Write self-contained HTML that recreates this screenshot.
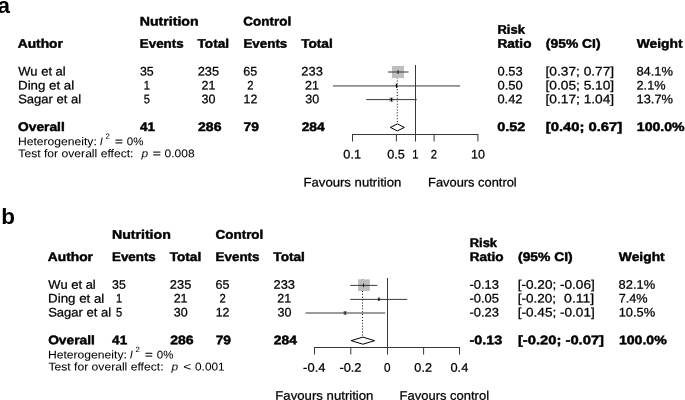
<!DOCTYPE html>
<html><head><meta charset="utf-8"><title>Forest plot</title>
<style>
html,body{margin:0;padding:0;background:#fff;}
body{width:685px;height:400px;overflow:hidden;position:relative;font-family:"Liberation Sans",sans-serif;}
svg{position:absolute;left:0;top:0;display:block;will-change:transform;}
svg text{font-family:"Liberation Sans",sans-serif;fill:#000;stroke:#000;stroke-linejoin:round;}
.r{stroke-width:0.25px;}
.b{font-weight:bold;stroke-width:0.45px;}
.i{font-style:italic;stroke-width:0.2px;}
.s{stroke-width:0.05px;}
.j{font-style:italic;stroke-width:0.0px;}
.lab{font-weight:bold;stroke:none;}
</style></head>
<body>
<svg width="685" height="400" viewBox="0 0 685 400">
<rect x="0" y="0" width="685" height="400" fill="#ffffff"/>
<text class="lab" x="-2.6" y="12.5" font-size="21.3" textLength="12.5" lengthAdjust="spacingAndGlyphs">a</text>
<text class="lab" x="1.35" y="223.8" font-size="21.3" textLength="13.7" lengthAdjust="spacingAndGlyphs">b</text>

<g fill="none" stroke="#383838" stroke-width="1">
<!-- panel a -->
<line x1="397.3" y1="65.95" x2="397.3" y2="123.5" stroke-dasharray="1 1.9" stroke="#111" stroke-width="1.05"/>
<rect x="392" y="66" width="12" height="12" fill="#bebebe" stroke="none"/>
<rect x="389.2" y="97.3" width="4.5" height="4.5" fill="#bebebe" stroke="none"/>
<rect x="395.6" y="85.1" width="1.8" height="1.8" fill="#bebebe" stroke="none"/>
<line x1="388" y1="72" x2="408.5" y2="72"/>
<line x1="333" y1="85.95" x2="460" y2="85.95"/>
<line x1="366.2" y1="99.6" x2="416.8" y2="99.6"/>
<line x1="398.05" y1="70.1" x2="398.05" y2="73.9" stroke="#111" stroke-width="0.95"/>
<line x1="396.5" y1="83.8" x2="396.5" y2="87.8" stroke="#000" stroke-width="1.3"/>
<line x1="391.5" y1="97.9" x2="391.5" y2="101.4" stroke="#000" stroke-width="1.2"/>
<line x1="415.5" y1="65" x2="415.5" y2="141.5"/>
<line x1="352" y1="134.5" x2="478.4" y2="134.5"/>
<line x1="352.5" y1="134.5" x2="352.5" y2="141.5"/>
<line x1="396.4" y1="134.5" x2="396.4" y2="141.5"/>
<line x1="434.1" y1="134.5" x2="434.1" y2="141.5"/>
<line x1="477.9" y1="134.5" x2="477.9" y2="141.5"/>
<path d="M390.3 127.4 L397.4 123.9 L404.4 127.4 L397.4 130.9 Z" fill="#fff" stroke="#000"/>
<!-- panel b -->
<line x1="362.5" y1="279.3" x2="362.5" y2="337" stroke-dasharray="1 1.9" stroke="#111" stroke-width="1.05"/>
<rect x="358" y="279.3" width="11.8" height="11.7" fill="#bebebe" stroke="none"/>
<rect x="377.5" y="297.6" width="3" height="3" fill="#bebebe" stroke="none"/>
<rect x="343.2" y="311" width="3.7" height="3.7" fill="#bebebe" stroke="none"/>
<line x1="350.25" y1="285.4" x2="377.25" y2="285.4"/>
<line x1="350.25" y1="299.4" x2="407.2" y2="299.4"/>
<line x1="305.5" y1="313" x2="385.2" y2="313"/>
<line x1="363.55" y1="283.5" x2="363.55" y2="287.1" stroke="#111" stroke-width="0.9"/>
<line x1="378.9" y1="297.4" x2="378.9" y2="301" stroke="#000" stroke-width="1.1"/>
<line x1="345.1" y1="311.2" x2="345.1" y2="314.8" stroke="#000"/>
<line x1="387.5" y1="278" x2="387.5" y2="354.5"/>
<line x1="314" y1="347.5" x2="460" y2="347.5"/>
<line x1="314.5" y1="347.5" x2="314.5" y2="354.5"/>
<line x1="350.8" y1="347.5" x2="350.8" y2="354.5"/>
<line x1="423.6" y1="347.5" x2="423.6" y2="354.5"/>
<line x1="459.5" y1="347.5" x2="459.5" y2="354.5"/>
<path d="M351.2 340.65 L362.9 337.1 L374.6 340.65 L362.9 344.2 Z" fill="#fff" stroke="#000"/>
</g>

<g>
<text x="139.76" y="25.55" transform="rotate(0.05 139.76 25.55)" font-size="12.4" class="b" textLength="58.83" lengthAdjust="spacingAndGlyphs">Nutrition</text>
<text x="243.32" y="25.55" transform="rotate(0.05 243.32 25.55)" font-size="12.4" class="b" textLength="47.83" lengthAdjust="spacingAndGlyphs">Control</text>
<text x="497.54" y="33.75" transform="rotate(0.05 497.54 33.75)" font-size="12.4" class="b" textLength="27.33" lengthAdjust="spacingAndGlyphs">Risk</text>
<text x="17.79" y="47.75" transform="rotate(0.05 17.79 47.75)" font-size="12.4" class="b" textLength="45.10" lengthAdjust="spacingAndGlyphs">Author</text>
<text x="139.81" y="47.75" transform="rotate(0.05 139.81 47.75)" font-size="12.4" class="b" textLength="43.83" lengthAdjust="spacingAndGlyphs">Events</text>
<text x="197.50" y="47.75" transform="rotate(0.05 197.50 47.75)" font-size="12.4" class="b" textLength="31.58" lengthAdjust="spacingAndGlyphs">Total</text>
<text x="243.46" y="47.75" transform="rotate(0.05 243.46 47.75)" font-size="12.4" class="b" textLength="43.83" lengthAdjust="spacingAndGlyphs">Events</text>
<text x="301.15" y="47.75" transform="rotate(0.05 301.15 47.75)" font-size="12.4" class="b" textLength="31.58" lengthAdjust="spacingAndGlyphs">Total</text>
<text x="497.49" y="47.75" transform="rotate(0.05 497.49 47.75)" font-size="12.4" class="b" textLength="33.97" lengthAdjust="spacingAndGlyphs">Ratio</text>
<text x="545.88" y="47.75" transform="rotate(0.05 545.88 47.75)" font-size="12.4" class="b" textLength="54.64" lengthAdjust="spacingAndGlyphs">(95% CI)</text>
<text x="636.73" y="47.75" transform="rotate(0.05 636.73 47.75)" font-size="12.4" class="b" textLength="45.85" lengthAdjust="spacingAndGlyphs">Weight</text>
<text x="18.32" y="75.55" transform="rotate(0.05 18.32 75.55)" font-size="12.4" class="r" textLength="47.40" lengthAdjust="spacingAndGlyphs">Wu et al</text>
<text x="139.91" y="75.55" transform="rotate(0.05 139.91 75.55)" font-size="12.4" class="r" textLength="13.76" lengthAdjust="spacingAndGlyphs">35</text>
<text x="197.71" y="75.55" transform="rotate(0.05 197.71 75.55)" font-size="12.4" class="r" textLength="21.43" lengthAdjust="spacingAndGlyphs">235</text>
<text x="243.37" y="75.55" transform="rotate(0.05 243.37 75.55)" font-size="12.4" class="r" textLength="13.95" lengthAdjust="spacingAndGlyphs">65</text>
<text x="301.36" y="75.55" transform="rotate(0.05 301.36 75.55)" font-size="12.4" class="r" textLength="21.49" lengthAdjust="spacingAndGlyphs">233</text>
<text x="497.47" y="75.55" transform="rotate(0.05 497.47 75.55)" font-size="12.4" class="r" textLength="25.14" lengthAdjust="spacingAndGlyphs">0.53</text>
<text x="545.51" y="75.55" transform="rotate(0.05 545.51 75.55)" font-size="12.4" class="r" textLength="68.65" lengthAdjust="spacingAndGlyphs">[0.37; 0.77]</text>
<text x="636.46" y="75.55" transform="rotate(0.05 636.46 75.55)" font-size="12.4" class="r" textLength="36.53" lengthAdjust="spacingAndGlyphs">84.1%</text>
<text x="18.08" y="89.40" transform="rotate(0.05 18.08 89.40)" font-size="12.4" class="r" textLength="56.14" lengthAdjust="spacingAndGlyphs">Ding et al</text>
<text x="143.72" y="89.40" transform="rotate(0.05 143.72 89.40)" font-size="12.4" class="r" textLength="6.19" lengthAdjust="spacingAndGlyphs">1</text>
<text x="201.47" y="89.40" transform="rotate(0.05 201.47 89.40)" font-size="12.4" class="r" textLength="13.89" lengthAdjust="spacingAndGlyphs">21</text>
<text x="247.23" y="89.40" transform="rotate(0.05 247.23 89.40)" font-size="12.4" class="r" textLength="6.27" lengthAdjust="spacingAndGlyphs">2</text>
<text x="305.12" y="89.40" transform="rotate(0.05 305.12 89.40)" font-size="12.4" class="r" textLength="13.89" lengthAdjust="spacingAndGlyphs">21</text>
<text x="497.47" y="89.40" transform="rotate(0.05 497.47 89.40)" font-size="12.4" class="r" textLength="25.25" lengthAdjust="spacingAndGlyphs">0.50</text>
<text x="545.51" y="89.40" transform="rotate(0.05 545.51 89.40)" font-size="12.4" class="r" textLength="68.65" lengthAdjust="spacingAndGlyphs">[0.05; 5.10]</text>
<text x="636.52" y="89.40" transform="rotate(0.05 636.52 89.40)" font-size="12.4" class="r" textLength="29.02" lengthAdjust="spacingAndGlyphs">2.1%</text>
<text x="18.15" y="103.20" transform="rotate(0.05 18.15 103.20)" font-size="12.4" class="r" textLength="62.98" lengthAdjust="spacingAndGlyphs">Sagar et al</text>
<text x="143.70" y="103.20" transform="rotate(0.05 143.70 103.20)" font-size="12.4" class="r" textLength="6.21" lengthAdjust="spacingAndGlyphs">5</text>
<text x="201.60" y="103.20" transform="rotate(0.05 201.60 103.20)" font-size="12.4" class="r" textLength="13.94" lengthAdjust="spacingAndGlyphs">30</text>
<text x="243.54" y="103.20" transform="rotate(0.05 243.54 103.20)" font-size="12.4" class="r" textLength="13.72" lengthAdjust="spacingAndGlyphs">12</text>
<text x="305.25" y="103.20" transform="rotate(0.05 305.25 103.20)" font-size="12.4" class="r" textLength="13.94" lengthAdjust="spacingAndGlyphs">30</text>
<text x="497.47" y="103.20" transform="rotate(0.05 497.47 103.20)" font-size="12.4" class="r" textLength="25.03" lengthAdjust="spacingAndGlyphs">0.42</text>
<text x="545.51" y="103.20" transform="rotate(0.05 545.51 103.20)" font-size="12.4" class="r" textLength="68.65" lengthAdjust="spacingAndGlyphs">[0.17; 1.04]</text>
<text x="636.60" y="103.20" transform="rotate(0.05 636.60 103.20)" font-size="12.4" class="r" textLength="36.38" lengthAdjust="spacingAndGlyphs">13.7%</text>
<text x="18.11" y="130.95" transform="rotate(0.05 18.11 130.95)" font-size="12.4" class="b" textLength="46.64" lengthAdjust="spacingAndGlyphs">Overall</text>
<text x="139.95" y="130.95" transform="rotate(0.05 139.95 130.95)" font-size="12.4" class="b" textLength="15.04" lengthAdjust="spacingAndGlyphs">41</text>
<text x="198.02" y="130.95" transform="rotate(0.05 198.02 130.95)" font-size="12.4" class="b" textLength="23.46" lengthAdjust="spacingAndGlyphs">286</text>
<text x="243.48" y="130.95" transform="rotate(0.05 243.48 130.95)" font-size="12.4" class="b" textLength="15.36" lengthAdjust="spacingAndGlyphs">79</text>
<text x="301.68" y="130.95" transform="rotate(0.05 301.68 130.95)" font-size="12.4" class="b" textLength="23.08" lengthAdjust="spacingAndGlyphs">284</text>
<text x="497.28" y="130.95" transform="rotate(0.05 497.28 130.95)" font-size="12.4" class="b" textLength="28.04" lengthAdjust="spacingAndGlyphs">0.52</text>
<text x="545.76" y="130.95" transform="rotate(0.05 545.76 130.95)" font-size="12.4" class="b" textLength="76.42" lengthAdjust="spacingAndGlyphs">[0.40; 0.67]</text>
<text x="636.82" y="130.95" transform="rotate(0.05 636.82 130.95)" font-size="12.4" class="b" textLength="47.79" lengthAdjust="spacingAndGlyphs">100.0%</text>
<text x="17.90" y="145.20" transform="rotate(0.05 17.90 145.20)" font-size="11.28" class="s" textLength="78.91" lengthAdjust="spacingAndGlyphs">Heterogeneity:</text>
<text x="99.73" y="145.20" transform="rotate(0.05 99.73 145.20)" font-size="11.28" class="j" textLength="3.13" lengthAdjust="spacingAndGlyphs">I</text>
<text x="105.54" y="138.80" transform="rotate(0.05 105.54 138.80)" font-size="7.6" class="s" textLength="4.28" lengthAdjust="spacingAndGlyphs">2</text>
<text x="114.96" y="145.20" transform="rotate(0.05 114.96 145.20)" font-size="11.28" class="r" textLength="7.77" lengthAdjust="spacingAndGlyphs">=</text>
<text x="126.77" y="145.20" transform="rotate(0.05 126.77 145.20)" font-size="11.28" class="s" textLength="16.62" lengthAdjust="spacingAndGlyphs">0%</text>
<text x="18.38" y="157.25" transform="rotate(0.05 18.38 157.25)" font-size="11.28" class="s" textLength="115.10" lengthAdjust="spacingAndGlyphs">Test for overall effect:</text>
<text x="141.54" y="157.25" transform="rotate(0.05 141.54 157.25)" font-size="11.28" class="j" textLength="6.59" lengthAdjust="spacingAndGlyphs">p</text>
<text x="152.73" y="157.25" transform="rotate(0.05 152.73 157.25)" font-size="11.28" class="r" textLength="8.13" lengthAdjust="spacingAndGlyphs">=</text>
<text x="164.54" y="157.25" transform="rotate(0.05 164.54 157.25)" font-size="11.28" class="s" textLength="30.14" lengthAdjust="spacingAndGlyphs">0.008</text>
<text x="343.37" y="158.60" transform="rotate(0.05 343.37 158.60)" font-size="12.4" class="r" textLength="17.62" lengthAdjust="spacingAndGlyphs">0.1</text>
<text x="387.27" y="158.60" transform="rotate(0.05 387.27 158.60)" font-size="12.4" class="r" textLength="17.61" lengthAdjust="spacingAndGlyphs">0.5</text>
<text x="412.16" y="158.60" transform="rotate(0.05 412.16 158.60)" font-size="12.4" class="r" textLength="6.19" lengthAdjust="spacingAndGlyphs">1</text>
<text x="430.82" y="158.60" transform="rotate(0.05 430.82 158.60)" font-size="12.4" class="r" textLength="6.27" lengthAdjust="spacingAndGlyphs">2</text>
<text x="471.03" y="158.60" transform="rotate(0.05 471.03 158.60)" font-size="12.4" class="r" textLength="13.97" lengthAdjust="spacingAndGlyphs">10</text>
<text x="303.47" y="186.45" transform="rotate(0.05 303.47 186.45)" font-size="12.4" class="r" textLength="97.89" lengthAdjust="spacingAndGlyphs">Favours nutrition</text>
<text x="428.10" y="186.45" transform="rotate(0.05 428.10 186.45)" font-size="12.4" class="r" textLength="88.64" lengthAdjust="spacingAndGlyphs">Favours control</text>
<text x="111.94" y="238.75" transform="rotate(0.05 111.94 238.75)" font-size="12.4" class="b" textLength="58.83" lengthAdjust="spacingAndGlyphs">Nutrition</text>
<text x="215.50" y="238.75" transform="rotate(0.05 215.50 238.75)" font-size="12.4" class="b" textLength="47.83" lengthAdjust="spacingAndGlyphs">Control</text>
<text x="469.72" y="246.95" transform="rotate(0.05 469.72 246.95)" font-size="12.4" class="b" textLength="27.33" lengthAdjust="spacingAndGlyphs">Risk</text>
<text x="47.84" y="260.95" transform="rotate(0.05 47.84 260.95)" font-size="12.4" class="b" textLength="45.10" lengthAdjust="spacingAndGlyphs">Author</text>
<text x="111.99" y="260.95" transform="rotate(0.05 111.99 260.95)" font-size="12.4" class="b" textLength="43.83" lengthAdjust="spacingAndGlyphs">Events</text>
<text x="169.68" y="260.95" transform="rotate(0.05 169.68 260.95)" font-size="12.4" class="b" textLength="31.58" lengthAdjust="spacingAndGlyphs">Total</text>
<text x="215.64" y="260.95" transform="rotate(0.05 215.64 260.95)" font-size="12.4" class="b" textLength="43.83" lengthAdjust="spacingAndGlyphs">Events</text>
<text x="273.33" y="260.95" transform="rotate(0.05 273.33 260.95)" font-size="12.4" class="b" textLength="31.58" lengthAdjust="spacingAndGlyphs">Total</text>
<text x="469.67" y="260.95" transform="rotate(0.05 469.67 260.95)" font-size="12.4" class="b" textLength="33.97" lengthAdjust="spacingAndGlyphs">Ratio</text>
<text x="518.06" y="260.95" transform="rotate(0.05 518.06 260.95)" font-size="12.4" class="b" textLength="54.64" lengthAdjust="spacingAndGlyphs">(95% CI)</text>
<text x="618.85" y="260.95" transform="rotate(0.05 618.85 260.95)" font-size="12.4" class="b" textLength="45.85" lengthAdjust="spacingAndGlyphs">Weight</text>
<text x="48.37" y="288.75" transform="rotate(0.05 48.37 288.75)" font-size="12.4" class="r" textLength="47.40" lengthAdjust="spacingAndGlyphs">Wu et al</text>
<text x="112.09" y="288.75" transform="rotate(0.05 112.09 288.75)" font-size="12.4" class="r" textLength="13.76" lengthAdjust="spacingAndGlyphs">35</text>
<text x="169.89" y="288.75" transform="rotate(0.05 169.89 288.75)" font-size="12.4" class="r" textLength="21.43" lengthAdjust="spacingAndGlyphs">235</text>
<text x="215.55" y="288.75" transform="rotate(0.05 215.55 288.75)" font-size="12.4" class="r" textLength="13.95" lengthAdjust="spacingAndGlyphs">65</text>
<text x="273.54" y="288.75" transform="rotate(0.05 273.54 288.75)" font-size="12.4" class="r" textLength="21.49" lengthAdjust="spacingAndGlyphs">233</text>
<text x="469.41" y="288.75" transform="rotate(0.05 469.41 288.75)" font-size="12.4" class="r" textLength="29.57" lengthAdjust="spacingAndGlyphs">-0.13</text>
<text x="517.70" y="288.75" transform="rotate(0.05 517.70 288.75)" font-size="12.4" class="r" textLength="77.07" lengthAdjust="spacingAndGlyphs">[-0.20; -0.06]</text>
<text x="618.58" y="288.75" transform="rotate(0.05 618.58 288.75)" font-size="12.4" class="r" textLength="36.53" lengthAdjust="spacingAndGlyphs">82.1%</text>
<text x="48.13" y="302.60" transform="rotate(0.05 48.13 302.60)" font-size="12.4" class="r" textLength="56.14" lengthAdjust="spacingAndGlyphs">Ding et al</text>
<text x="115.90" y="302.60" transform="rotate(0.05 115.90 302.60)" font-size="12.4" class="r" textLength="6.19" lengthAdjust="spacingAndGlyphs">1</text>
<text x="173.65" y="302.60" transform="rotate(0.05 173.65 302.60)" font-size="12.4" class="r" textLength="13.89" lengthAdjust="spacingAndGlyphs">21</text>
<text x="219.41" y="302.60" transform="rotate(0.05 219.41 302.60)" font-size="12.4" class="r" textLength="6.27" lengthAdjust="spacingAndGlyphs">2</text>
<text x="277.30" y="302.60" transform="rotate(0.05 277.30 302.60)" font-size="12.4" class="r" textLength="13.89" lengthAdjust="spacingAndGlyphs">21</text>
<text x="469.41" y="302.60" transform="rotate(0.05 469.41 302.60)" font-size="12.4" class="r" textLength="29.51" lengthAdjust="spacingAndGlyphs">-0.05</text>
<text x="517.70" y="302.60" transform="rotate(0.05 517.70 302.60)" font-size="12.4" class="r" textLength="38.36" lengthAdjust="spacingAndGlyphs">[-0.20;</text>
<text x="564.07" y="302.60" transform="rotate(0.05 564.07 302.60)" font-size="12.4" class="r" textLength="30.21" lengthAdjust="spacingAndGlyphs">0.11]</text>
<text x="618.70" y="302.60" transform="rotate(0.05 618.70 302.60)" font-size="12.4" class="r" textLength="28.96" lengthAdjust="spacingAndGlyphs">7.4%</text>
<text x="48.20" y="316.40" transform="rotate(0.05 48.20 316.40)" font-size="12.4" class="r" textLength="62.98" lengthAdjust="spacingAndGlyphs">Sagar et al</text>
<text x="115.88" y="316.40" transform="rotate(0.05 115.88 316.40)" font-size="12.4" class="r" textLength="6.21" lengthAdjust="spacingAndGlyphs">5</text>
<text x="173.78" y="316.40" transform="rotate(0.05 173.78 316.40)" font-size="12.4" class="r" textLength="13.94" lengthAdjust="spacingAndGlyphs">30</text>
<text x="215.72" y="316.40" transform="rotate(0.05 215.72 316.40)" font-size="12.4" class="r" textLength="13.72" lengthAdjust="spacingAndGlyphs">12</text>
<text x="277.43" y="316.40" transform="rotate(0.05 277.43 316.40)" font-size="12.4" class="r" textLength="13.94" lengthAdjust="spacingAndGlyphs">30</text>
<text x="469.41" y="316.40" transform="rotate(0.05 469.41 316.40)" font-size="12.4" class="r" textLength="29.57" lengthAdjust="spacingAndGlyphs">-0.23</text>
<text x="517.70" y="316.40" transform="rotate(0.05 517.70 316.40)" font-size="12.4" class="r" textLength="77.07" lengthAdjust="spacingAndGlyphs">[-0.45; -0.01]</text>
<text x="618.72" y="316.40" transform="rotate(0.05 618.72 316.40)" font-size="12.4" class="r" textLength="36.38" lengthAdjust="spacingAndGlyphs">10.5%</text>
<text x="48.16" y="344.15" transform="rotate(0.05 48.16 344.15)" font-size="12.4" class="b" textLength="46.64" lengthAdjust="spacingAndGlyphs">Overall</text>
<text x="112.13" y="344.15" transform="rotate(0.05 112.13 344.15)" font-size="12.4" class="b" textLength="15.04" lengthAdjust="spacingAndGlyphs">41</text>
<text x="170.20" y="344.15" transform="rotate(0.05 170.20 344.15)" font-size="12.4" class="b" textLength="23.46" lengthAdjust="spacingAndGlyphs">286</text>
<text x="215.66" y="344.15" transform="rotate(0.05 215.66 344.15)" font-size="12.4" class="b" textLength="15.36" lengthAdjust="spacingAndGlyphs">79</text>
<text x="273.86" y="344.15" transform="rotate(0.05 273.86 344.15)" font-size="12.4" class="b" textLength="23.08" lengthAdjust="spacingAndGlyphs">284</text>
<text x="469.57" y="344.15" transform="rotate(0.05 469.57 344.15)" font-size="12.4" class="b" textLength="32.73" lengthAdjust="spacingAndGlyphs">-0.13</text>
<text x="517.94" y="344.15" transform="rotate(0.05 517.94 344.15)" font-size="12.4" class="b" textLength="86.07" lengthAdjust="spacingAndGlyphs">[-0.20; -0.07]</text>
<text x="618.94" y="344.15" transform="rotate(0.05 618.94 344.15)" font-size="12.4" class="b" textLength="47.79" lengthAdjust="spacingAndGlyphs">100.0%</text>
<text x="47.95" y="358.40" transform="rotate(0.05 47.95 358.40)" font-size="11.28" class="s" textLength="78.91" lengthAdjust="spacingAndGlyphs">Heterogeneity:</text>
<text x="129.78" y="358.40" transform="rotate(0.05 129.78 358.40)" font-size="11.28" class="j" textLength="3.13" lengthAdjust="spacingAndGlyphs">I</text>
<text x="135.59" y="352.00" transform="rotate(0.05 135.59 352.00)" font-size="7.6" class="s" textLength="4.28" lengthAdjust="spacingAndGlyphs">2</text>
<text x="145.01" y="358.40" transform="rotate(0.05 145.01 358.40)" font-size="11.28" class="r" textLength="7.77" lengthAdjust="spacingAndGlyphs">=</text>
<text x="156.82" y="358.40" transform="rotate(0.05 156.82 358.40)" font-size="11.28" class="s" textLength="16.62" lengthAdjust="spacingAndGlyphs">0%</text>
<text x="48.43" y="370.45" transform="rotate(0.05 48.43 370.45)" font-size="11.28" class="s" textLength="115.10" lengthAdjust="spacingAndGlyphs">Test for overall effect:</text>
<text x="171.59" y="370.45" transform="rotate(0.05 171.59 370.45)" font-size="11.28" class="j" textLength="6.59" lengthAdjust="spacingAndGlyphs">p</text>
<text x="183.23" y="370.45" transform="rotate(0.05 183.23 370.45)" font-size="11.28" class="s" textLength="8.13" lengthAdjust="spacingAndGlyphs">&lt;</text>
<text x="195.05" y="370.45" transform="rotate(0.05 195.05 370.45)" font-size="11.28" class="s" textLength="29.58" lengthAdjust="spacingAndGlyphs">0.001</text>
<text x="303.11" y="371.80" transform="rotate(0.05 303.11 371.80)" font-size="12.4" class="r" textLength="22.35" lengthAdjust="spacingAndGlyphs">-0.4</text>
<text x="339.42" y="371.80" transform="rotate(0.05 339.42 371.80)" font-size="12.4" class="r" textLength="22.07" lengthAdjust="spacingAndGlyphs">-0.2</text>
<text x="383.89" y="371.80" transform="rotate(0.05 383.89 371.80)" font-size="12.4" class="r" textLength="6.56" lengthAdjust="spacingAndGlyphs">0</text>
<text x="414.38" y="371.80" transform="rotate(0.05 414.38 371.80)" font-size="12.4" class="r" textLength="17.56" lengthAdjust="spacingAndGlyphs">0.2</text>
<text x="450.47" y="371.80" transform="rotate(0.05 450.47 371.80)" font-size="12.4" class="r" textLength="17.85" lengthAdjust="spacingAndGlyphs">0.4</text>
<text x="275.27" y="399.65" transform="rotate(0.05 275.27 399.65)" font-size="12.4" class="r" textLength="98.20" lengthAdjust="spacingAndGlyphs">Favours nutrition</text>
<text x="399.59" y="399.65" transform="rotate(0.05 399.59 399.65)" font-size="12.4" class="r" textLength="89.46" lengthAdjust="spacingAndGlyphs">Favours control</text>
</g>
</svg>
</body></html>
